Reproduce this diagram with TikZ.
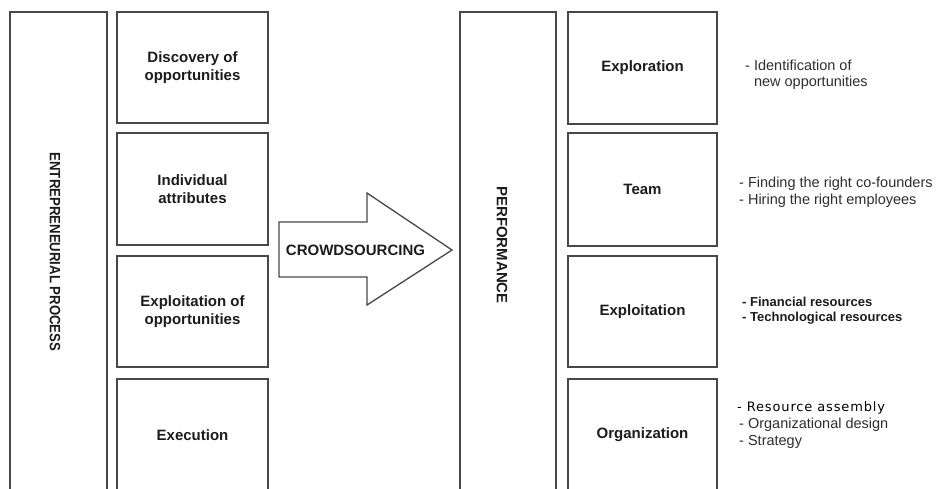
\documentclass[tikz,border=0pt]{standalone}
\usepackage{fontspec}
\setmainfont{Liberation Sans}
\newfontfamily\narrowsans[FakeStretch=0.88]{Liberation Sans}
\newfontfamily\widesans[LetterSpace=6.5]{DejaVu Sans}
\definecolor{frame}{HTML}{484848}
\definecolor{ink}{HTML}{1C1C1C}
\definecolor{note}{HTML}{2E2E2E}
\begin{document}
\begin{tikzpicture}[x=1pt,y=-1pt,
  box/.style={draw=frame, line width=1.8pt, rectangle, inner sep=0pt,
    align=center, text=ink, font=\bfseries\fontsize{15}{17.5}\selectfont},
  colbox/.style={box, minimum width=151pt, minimum height=111pt},
  rcolbox/.style={box, minimum width=149pt, minimum height=111pt},
  tallbox/.style={box, minimum width=97pt, minimum height=490pt},
  vlabel/.style={rotate=-90, inner sep=0pt, text=ink},
  notetext/.style={anchor=west, inner sep=0pt, align=left, text=note,
    font=\fontsize{14.5}{16}\selectfont}]
\useasboundingbox (0,0) rectangle (938,488);
\clip (0,0) rectangle (938,488);

% entrepreneurial process column
\node[tallbox] (ep) at (58.5,257) {};
\node[vlabel, font=\narrowsans\bfseries\fontsize{15}{18}\selectfont] (eplabel)
  at (55,252) {ENTREPRENEURIAL PROCESS};

\node[colbox] (discovery)    at (192.5,67.5) {Discovery of\\opportunities};
\node[colbox, minimum height=112pt] (attributes) at (192.5,189) {Individual\\attributes};
\node[colbox] (exploitopp)   at (192.5,311.5) {Exploitation of\\opportunities};
\node[colbox, minimum height=112pt] (execution)  at (192.5,435) {Execution};

% crowdsourcing arrow
\draw[frame, line width=1.3pt, fill=white, line join=miter]
  (279,222) -- (367,222) -- (367,193) -- (452,250) -- (367,305) -- (367,277) -- (279,277) -- cycle;
\node[inner sep=0pt, text=ink, font=\bfseries\fontsize{15}{18}\selectfont] (crowd)
  at (355.5,250) {CROWDSOURCING};

% performance column
\node[tallbox, minimum width=96pt] (perf) at (508,257) {};
\node[vlabel, font=\bfseries\fontsize{15}{18}\selectfont] (perflabel)
  at (502,245) {PERFORMANCE};

\node[rcolbox, minimum height=112pt] (exploration)  at (642.5,68) {Exploration};
\node[rcolbox, minimum height=113pt] (team)         at (642.5,189.5) {Team};
\node[rcolbox] (exploitation) at (642.5,311.5) {Exploitation};
\node[rcolbox, minimum height=112pt] (organization) at (642.5,435) {Organization};

% notes beside the performance dimensions
\node[notetext] (nexplore) at (745,75)
  {- Identification of\\\phantom{- }new opportunities};
\node[notetext, font=\fontsize{14.5}{17}\selectfont] (nteam) at (739,192.5)
  {- Finding the right co-founders\\- Hiring the right employees};
\node[notetext, text=ink, font=\bfseries\fontsize{13}{15}\selectfont] (nexploit) at (742,310.5)
  {- Financial resources\\- Technological resources};
\node[notetext, font=\fontsize{14.5}{17}\selectfont] (norg) at (737,425)
  {{\widesans\color{black}\fontsize{13}{17}\selectfont - Resource assembly}\\
   \hspace*{2pt}- Organizational design\\
   \hspace*{2pt}- Strategy};
\end{tikzpicture}
\end{document}
